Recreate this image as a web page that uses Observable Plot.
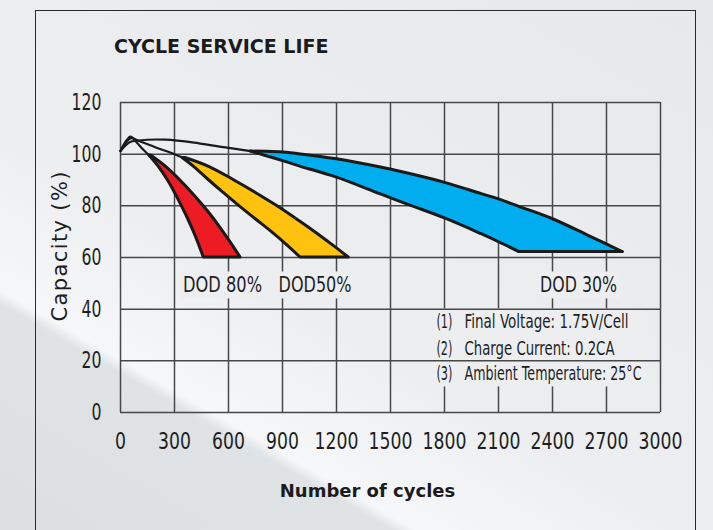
<!DOCTYPE html>
<html>
<head>
<meta charset="utf-8">
<script src="https://cdn.jsdelivr.net/npm/d3@7"></script>
<script src="https://cdn.jsdelivr.net/npm/@observablehq/plot@0.6"></script>
<style>
  html, body { margin: 0; padding: 0; }
  body {
    width: 713px; height: 530px; overflow: hidden; position: relative;
    background: linear-gradient(30deg, #dce0e3 0%, #dfe3e6 24%, #f6f7f8 25.5%, #eceef0 42%, #e6e9eb 100%);
    font-family: "DejaVu Sans", sans-serif;
  }
  #frame { position: absolute; left: 35px; top: 10px; width: 661px; height: 560px; border: 1.5px solid #2a2a2a; box-sizing: border-box; }
  #title { position: absolute; left: 114px; top: 35px; font-weight: bold; font-size: 19px; color: #1b1b1b; white-space: nowrap; }
  #chart { position: absolute; left: 0; top: 0; }
</style>
</head>
<body>
<div id="frame"></div>
<div id="title">CYCLE SERVICE LIFE</div>
<div id="chart"></div>
<script>
// Axis ticks
const xTicks = [0, 300, 600, 900, 1200, 1500, 1800, 2100, 2400, 2700, 3000];
const yTicks = [0, 20, 40, 60, 80, 100, 120];

// DOD 80% band (capacity levels, left / right edge in cycles)
const redCap   = [99.5, 95, 90, 85, 80, 75, 70, 65, 60];
const redLeft  = [160, 214, 262, 303, 340, 375, 407, 436, 463];
const redRight = [170, 255, 330, 398, 460, 518, 570, 620, 667];

// DOD 50% band
const yelCap   = [98.5, 95, 90, 85, 80, 75, 70, 65, 60];
const yelLeft  = [345, 410, 490, 573, 659, 748, 838, 922, 1000];
const yelRight = [360, 495, 628, 752, 868, 975, 1078, 1175, 1268];

// DOD 30% band (cycles, lower / upper capacity); lower edge reaches its floor at 2213
const bluX     = [722, 800, 900, 1000, 1200, 1444, 1600, 1800, 2000, 2100, 2213, 2400, 2600, 2787];
const bluLower = [101.2, 99.6, 97.5, 95.3, 91.1, 84.6, 80.5, 75.3, 69.3, 66.1, 62.3, 62.3, 62.3, 62.3];
const bluUpper = [101.2, 101.1, 100.8, 100.1, 98.2, 95, 92.6, 89.1, 84.8, 82.7, 79.8, 75, 68.5, 62.3];
const bluFloorIndex = 10;

// Initial (lead-in) curves from 0 cycles
const leadRedX = [0, 25, 56, 90, 130, 160];
const leadRedY = [101.2, 104.5, 106.8, 104.5, 101.5, 99.5];
const leadYelX = [0, 30, 60, 100, 200, 300, 352];
const leadYelY = [101.2, 104.6, 106.2, 105.2, 102.5, 100, 98.5];
const leadBluX = [0, 50, 100, 250, 435, 583, 722];
const leadBluY = [101.2, 104.6, 105.3, 105.6, 104.2, 102.6, 101.2];

// Labels
const dodLabels = ["DOD 80%", "DOD50%", "DOD 30%"];
const dodX = [567, 1081, 2545];
const dodY = [49.2, 49.2, 49.2];
const noteNums = ["(1)", "(2)", "(3)"];
const noteTexts = ["Final Voltage: 1.75V/Cell", "Charge Current: 0.2CA", "Ambient Temperature: 25°C"];
const noteNumX = 1755;
const noteTextX = 1911;
const noteY = [35.0, 24.6, 14.9];

const band = (cap, left, right) => cap.map((c, i) => ({cap: c, left: left[i], right: right[i]}));
const blue = bluX.map((x, i) => ({x, lo: bluLower[i], hi: bluUpper[i]}));
const blueLowerCurve = blue.slice(0, bluFloorIndex + 1);
const blueFloor = blue.slice(bluFloorIndex);
const lead = (xs, ys, s) => xs.map((x, i) => ({cycles: x, cap: ys[i], series: s}));
const leads = [...lead(leadRedX, leadRedY, "r"), ...lead(leadYelX, leadYelY, "y"), ...lead(leadBluX, leadBluY, "b")];
const dods = dodLabels.map((t, i) => ({t, x: dodX[i], y: dodY[i]}));
const notes = noteNums.map((n, i) => ({n, t: noteTexts[i], y: noteY[i]}));

const gridColor = "#474747";
const halo = "#eceef0";
const ink = "#1e1e1e";
const outline = "#1a1a1a";

const chart = Plot.plot({
  width: 713,
  height: 530,
  marginLeft: 120,
  marginRight: 53,
  marginTop: 102,
  marginBottom: 118,
  style: {background: "transparent", fontFamily: '"DejaVu Sans", sans-serif', color: ink, overflow: "visible"},
  x: {domain: [0, 3000]},
  y: {domain: [0, 120]},
  marks: [
    Plot.ruleX(xTicks, {stroke: gridColor, strokeWidth: 1.5}),
    Plot.text(dods, {x: "x", y: "y", text: "t", fontSize: 22, fill: ink}),
    Plot.text(notes, {x: noteNumX, y: "y", text: "n", textAnchor: "start", fontSize: 20, fill: ink}),
    Plot.text(notes, {x: noteTextX, y: "y", text: "t", textAnchor: "start", fontSize: 20, fill: ink}),
    Plot.ruleY(yTicks, {stroke: gridColor, strokeWidth: 1.5}),
    Plot.line(leads, {x: "cycles", y: "cap", z: "series", stroke: outline, strokeWidth: 2.2, curve: "catmull-rom"}),
    // DOD 30%: fill, then outlines
    Plot.areaY(blue, {x: "x", y1: "lo", y2: "hi", fill: "#00aeef", curve: "linear"}),
    Plot.line(blue, {x: "x", y: "hi", stroke: outline, strokeWidth: 3, curve: "catmull-rom"}),
    Plot.line(blueLowerCurve, {x: "x", y: "lo", stroke: outline, strokeWidth: 3, curve: "catmull-rom"}),
    Plot.line(blueFloor, {x: "x", y: "lo", stroke: outline, strokeWidth: 3, strokeLinecap: "round"}),
    Plot.areaX(band(yelCap, yelLeft, yelRight), {y: "cap", x1: "left", x2: "right", fill: "#ffc20e", stroke: outline, strokeWidth: 3, curve: "catmull-rom"}),
    Plot.areaX(band(redCap, redLeft, redRight), {y: "cap", x1: "left", x2: "right", fill: "#ed1c24", stroke: outline, strokeWidth: 3, curve: "catmull-rom"}),
    Plot.axisX(xTicks, {tickSize: 0, tickPadding: 20, fontSize: 23, label: null, tickFormat: d => String(d), fill: ink}),
    Plot.axisY(yTicks, {tickSize: 0, tickPadding: 19, fontSize: 23, label: null, fill: ink}),
    Plot.text(["Number of cycles"], {frameAnchor: "bottom", dx: -23, dy: 84, fontSize: 18, fontWeight: "bold", fill: "#1b1b1b"}),
    Plot.text(["Capacity (%)"], {frameAnchor: "left", textAnchor: "middle", dx: -60, dy: -11, rotate: -90, fontSize: 21, fill: ink})
  ]
});
document.getElementById("chart").appendChild(chart);

// Narrow the glyphs to mimic the condensed typeface of the original
const fit = (t, w, mode = "spacingAndGlyphs") => { t.setAttribute("textLength", w.toFixed(1)); t.setAttribute("lengthAdjust", mode); };
function squeeze(selector, factor) {
  chart.querySelectorAll(selector).forEach(t => {
    const len = t.getComputedTextLength();
    if (len > 0) fit(t, len * factor);
  });
}
squeeze('g[aria-label="x-axis tick label"] text', 0.75);
squeeze('g[aria-label="y-axis tick label"] text', 0.68);
const labelWidths = {
  "DOD 80%": 79, "DOD50%": 73, "DOD 30%": 77,
  "(1)": 16, "(2)": 16, "(3)": 16,
  "Final Voltage: 1.75V/Cell": 164, "Charge Current: 0.2CA": 150, "Ambient Temperature: 25°C": 177
};
const dodEls = [], noteEls = [];
chart.querySelectorAll("text").forEach(t => {
  const s = t.textContent;
  const w = labelWidths[s];
  if (w) fit(t, w);
  if (s === "Capacity (%)") fit(t, 150, "spacing");
  if (dodLabels.includes(s)) dodEls.push(t);
  if (noteNums.includes(s) || noteTexts.includes(s)) noteEls.push(t);
});

// Mask the vertical grid lines behind the labels (horizontal lines stay on top, as in the original)
const svgBox = chart.getBoundingClientRect();
const firstText = chart.querySelector('g[aria-label="text"]');
const ns = "http://www.w3.org/2000/svg";
function mask(els, pad) {
  const boxes = els.map(e => e.getBoundingClientRect());
  const x0 = Math.min(...boxes.map(b => b.left)) - svgBox.left - pad;
  const x1 = Math.max(...boxes.map(b => b.right)) - svgBox.left + pad;
  const y0 = Math.min(...boxes.map(b => b.top)) - svgBox.top - 1;
  const y1 = Math.max(...boxes.map(b => b.bottom)) - svgBox.top + 1;
  const r = document.createElementNS(ns, "rect");
  r.setAttribute("x", x0); r.setAttribute("y", y0);
  r.setAttribute("width", x1 - x0); r.setAttribute("height", y1 - y0);
  r.setAttribute("fill", halo);
  firstText.parentNode.insertBefore(r, firstText);
}
dodEls.forEach(e => mask([e], 3));
mask(noteEls, 3);
</script>
</body>
</html>
